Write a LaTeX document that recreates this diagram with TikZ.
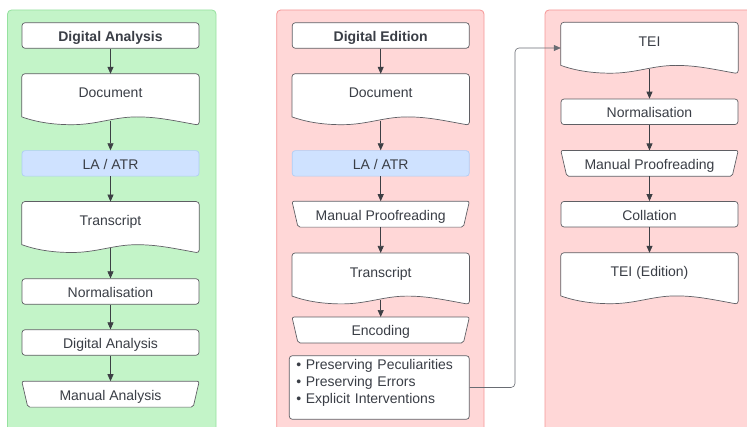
\documentclass[tikz,border=0pt]{standalone}
\usepackage{fontspec}
\setmainfont{Liberation Sans}
\usetikzlibrary{calc,arrows.meta}
\definecolor{greenfill}{RGB}{195,244,200}
\definecolor{greenline}{RGB}{150,225,160}
\definecolor{pinkfill}{RGB}{255,215,215}
\definecolor{pinkline}{RGB}{245,150,150}
\definecolor{bluefill}{RGB}{207,226,255}
\definecolor{blueline}{RGB}{175,205,245}
\definecolor{txt}{RGB}{58,62,70}
\definecolor{edge}{RGB}{95,95,100}
\definecolor{arr}{RGB}{60,63,68}
\definecolor{conn}{RGB}{105,108,115}
\pgfdeclarelayer{panel}
\pgfdeclarelayer{shapes}
\pgfsetlayers{panel,shapes,main}
\tikzset{
  every node/.style={font=\fontsize{14}{17}\selectfont, text=txt},
  basebox/.style={draw=edge, line width=0.7pt, fill=white, rounded corners=3pt,
    minimum width=177pt, minimum height=25.5pt, inner sep=0pt},
  box/.style={basebox, text height=12pt, text depth=0pt},
  lbox/.style={box, fill=bluefill, draw=blueline},
  hbox/.style={box, font=\fontsize{14}{17}\selectfont\bfseries},
  docbox/.style={minimum width=177pt, minimum height=51pt, inner sep=0pt,
    text height=10pt, text depth=13pt},
  trapbox/.style={minimum width=177pt, minimum height=25.5pt, inner sep=0pt,
    text height=12pt, text depth=0pt},
  shapeline/.style={draw=edge, line width=0.7pt, fill=white},
  panelA/.style={fill=greenfill, draw=greenline, line width=0.8pt, rounded corners=4pt},
  panelB/.style={fill=pinkfill, draw=pinkline, line width=0.8pt, rounded corners=4pt},
  flow/.style={draw=arr, line width=0.7pt, -{Triangle[length=7pt,width=6pt]}},
}
\newcommand\docshape[1]{%
  \begin{pgfonlayer}{shapes}
  \filldraw[shapeline] ($(#1.south west)+(0,-8.3)$) [rounded corners=3pt]
    -- (#1.north west) -- (#1.north east) -- (#1.south east) [sharp corners]
    .. controls ($(#1.south west)+(150,-5)$) and ($(#1.south west)+(135,-8.3)$) ..
    ($(#1.south west)+(115,-8.3)$)
    .. controls ($(#1.south west)+(92,-8.3)$) and ($(#1.south west)+(75,-0.5)$) ..
    ($(#1.south west)+(50,-0.5)$)
    .. controls ($(#1.south west)+(28,-0.5)$) and ($(#1.south west)+(12,-4)$) ..
    cycle;
  \end{pgfonlayer}}
\newcommand\trapshape[1]{%
  \begin{pgfonlayer}{shapes}
  \filldraw[shapeline, rounded corners=2pt] (#1.north west) -- (#1.north east)
    -- ($(#1.south east)+(-6,0)$) -- ($(#1.south west)+(6,0)$) -- cycle;
  \end{pgfonlayer}}
\begin{document}
\begin{tikzpicture}[x=1pt,y=-1pt]
\useasboundingbox (0,0) rectangle (747,427);
\begin{pgfonlayer}{panel}
  \begin{scope}
    \clip (0,0) rectangle (747,427);
    \filldraw[panelA] (7.5,10) rectangle (216,445);
    \filldraw[panelB] (276.7,10) rectangle (484,445);
    \filldraw[panelB] (545,10) rectangle (765,445);
  \end{scope}
\end{pgfonlayer}

% Left column
\node[hbox] (h1) at (110.5,35.5) {Digital Analysis};
\node[docbox] (doc1) at (110.5,99.5) {Document};
\node[lbox] (la1) at (110.5,163.4) {LA / ATR};
\node[docbox] (tr1) at (110.5,227.3) {Transcript};
\node[box] (no1) at (110.5,291.5) {Normalisation};
\node[box] (da1) at (110.5,342.5) {Digital Analysis};
\node[trapbox] (ma1) at (110.5,394.2) {Manual Analysis};
\docshape{doc1}\docshape{tr1}\trapshape{ma1}

% Middle column
\node[hbox] (h2) at (380.7,35.5) {Digital Edition};
\node[docbox] (doc2) at (380.7,99.5) {Document};
\node[lbox] (la2) at (380.7,163.4) {LA / ATR};
\node[trapbox] (mp2) at (380.7,214.2) {Manual Proofreading};
\node[docbox] (tr2) at (380.7,278.7) {Transcript};
\node[trapbox] (en2) at (380.7,330) {Encoding};
\node[basebox, minimum width=180pt, minimum height=63.6pt, text width=166pt,
  inner xsep=7pt, align=left, text height=10pt, text depth=45pt]
  (bul) at (379.3,387.5)
  {\textbullet\ Preserving Peculiarities\\\textbullet\ Preserving Errors\\\textbullet\ Explicit Interventions};
\docshape{doc2}\docshape{tr2}\trapshape{mp2}\trapshape{en2}

% Right column
\node[docbox] (tei) at (649.5,48) {TEI};
\node[box] (no3) at (649.5,111.8) {Normalisation};
\node[trapbox] (mp3) at (649.5,163.4) {Manual Proofreading};
\node[box] (co3) at (649.5,214.2) {Collation};
\node[docbox] (te3) at (649.5,278.5) {TEI (Edition)};
\docshape{tei}\trapshape{mp3}\docshape{te3}

% Arrows left
\draw[flow] (h1) -- (doc1);
\draw[flow] ([yshift=4.5pt]doc1.south) -- (la1);
\draw[flow] (la1) -- (tr1);
\draw[flow] ([yshift=4.5pt]tr1.south) -- (no1);
\draw[flow] (no1) -- (da1);
\draw[flow] (da1) -- (ma1);
% Arrows middle
\draw[flow] (h2) -- (doc2);
\draw[flow] ([yshift=4.5pt]doc2.south) -- (la2);
\draw[flow] (la2) -- (mp2);
\draw[flow] (mp2) -- (tr2);
\draw[flow] ([yshift=4.5pt]tr2.south) -- (en2);
% Arrows right
\draw[flow] ([yshift=4.5pt]tei.south) -- (no3);
\draw[flow] (no3) -- (mp3);
\draw[flow] (mp3) -- (co3);
\draw[flow] (co3) -- (te3);
% Connector
\coordinate (bend) at (515,0);
\draw[flow, draw=conn, line width=0.6pt, rounded corners=4pt]
  (bul.east) -| (bend |- tei.west) -- (tei.west);
\end{tikzpicture}
\end{document}
